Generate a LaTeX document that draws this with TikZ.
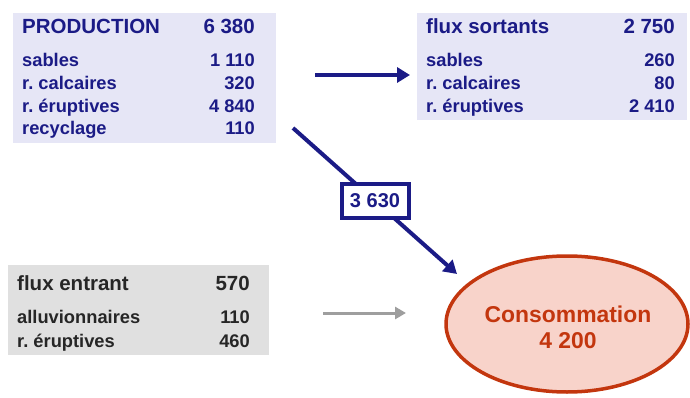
\documentclass[tikz,border=0pt]{standalone}
\usepackage{fontspec}
\setmainfont{Liberation Sans}
\usepackage{tikz}
\usetikzlibrary{positioning, arrows.meta, shapes.geometric}
\frenchspacing

\definecolor{navy}{HTML}{1B1B86}
\definecolor{lavande}{HTML}{E6E6F6}
\definecolor{grisbox}{HTML}{E0E0E0}
\definecolor{brique}{HTML}{C3360E}
\definecolor{rose}{HTML}{F8D3CA}

\begin{document}
\begin{tikzpicture}[
    x=1pt, y=-1pt,
    >=Triangle,
    box/.style={rectangle, draw=none, inner sep=0pt, anchor=north west},
    titre/.style={inner sep=0pt, font=\bfseries\fontsize{20.5}{24}\selectfont},
    ligne/.style={inner sep=0pt, font=\bfseries\fontsize{18.3}{22}\selectfont},
    flux/.style={->, line width=4pt, draw=navy, -{Triangle[length=13pt, width=15pt]}}
]

% Background / bounding box
\useasboundingbox (0,0) rectangle (690,398);

% Boxes
\node[box, fill=lavande, minimum width=263pt, minimum height=130pt] (prod) at (13,13) {};
\node[box, fill=lavande, minimum width=270pt, minimum height=107pt] (sort) at (417,13) {};
\node[box, fill=grisbox, minimum width=261pt, minimum height=90pt] (entr) at (8,265) {};

% PRODUCTION
\begin{scope}[text=navy]
\node[titre, anchor=base west] (prodT) at (22,34) {PRODUCTION};
\node[titre, anchor=base east] (prodV) at (255,34) {6 380};
\foreach \nom/\val/\y in {sables/1 110/67, r. calcaires/320/90, r. éruptives/4 840/113, recyclage/110/135} {
    \node[ligne, anchor=base west] at (22,\y) {\nom};
    \node[ligne, anchor=base east] at (255,\y) {\val};
}

% flux sortants
\node[titre, anchor=base west] (sortT) at (426,34) {flux sortants};
\node[titre, anchor=base east] (sortV) at (675,34) {2 750};
\foreach \nom/\val/\y in {sables/260/67, r. calcaires/80/90, r. éruptives/2 410/113} {
    \node[ligne, anchor=base west] at (426,\y) {\nom};
    \node[ligne, anchor=base east] at (675,\y) {\val};
}
\end{scope}

% flux entrant
\begin{scope}[text=black!85]
\node[titre, anchor=base west] (entrT) at (17,290) {flux entrant};
\node[titre, anchor=base east] (entrV) at (250,290) {570};
\foreach \nom/\val/\y in {alluvionnaires/110/323, r. éruptives/460/347} {
    \node[ligne, anchor=base west] at (17,\y) {\nom};
    \node[ligne, anchor=base east] at (250,\y) {\val};
}
\end{scope}

% Consommation
\node[ellipse, draw=brique, fill=rose, line width=3.5pt, minimum width=242pt, minimum height=136pt] (conso) at (567,324) {};
\node[text=brique, font=\bfseries\fontsize{22.9}{26}\selectfont, inner sep=0pt, anchor=base] (consoT) at (568,322) {Consommation};
\node[text=brique, font=\bfseries\fontsize{22.9}{26}\selectfont, inner sep=0pt, anchor=base] (consoV) at (568,348) {4 200};

% Arrows
\coordinate (a1) at (315,75);
\coordinate (a2) at (410,75);
\draw[flux] (a1) -- (a2);

\coordinate (b1) at (293,128);
\coordinate (b2) at (457,274);
\draw[flux] (b1) -- (b2)
    node[pos=0.5, fill=white, draw=navy, line width=4pt, text=navy, font=\bfseries\fontsize{20}{24}\selectfont,
         inner sep=2pt, minimum width=67pt, minimum height=33pt] (val) {3 630};

\coordinate (c1) at (323,313);
\coordinate (c2) at (406,313);
\draw[->, line width=3pt, draw=black!38, -{Triangle[length=11pt, width=12pt]}] (c1) -- (c2);

\end{tikzpicture}
\end{document}
